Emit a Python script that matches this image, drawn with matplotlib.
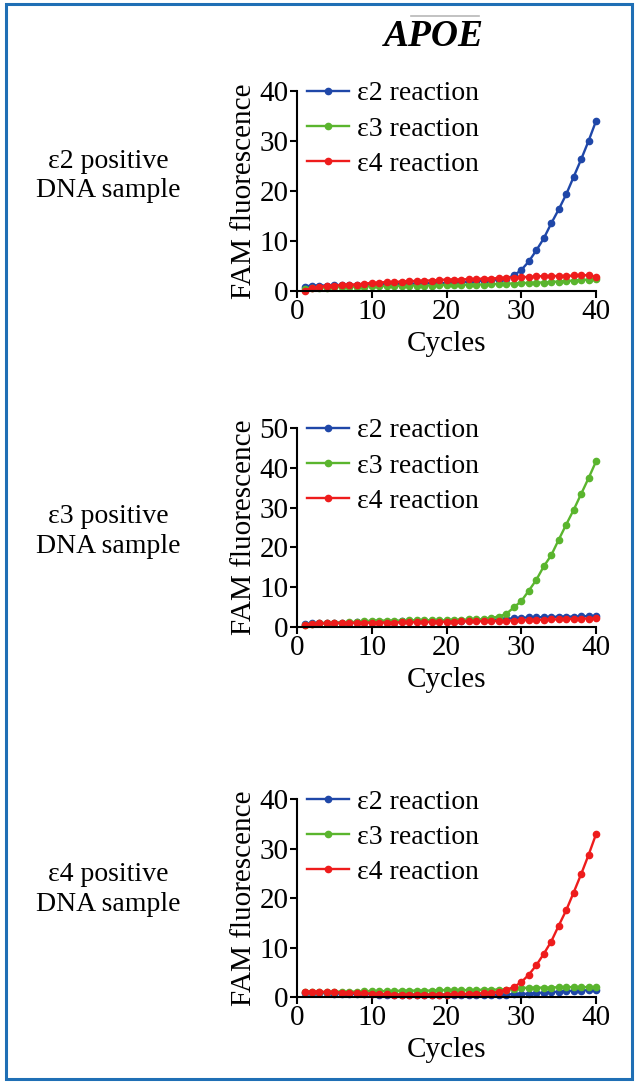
import matplotlib
matplotlib.use('Agg')
import matplotlib.pyplot as plt
from matplotlib.patches import Rectangle
import numpy as np

plt.rcParams['font.family'] = ['Liberation Serif', 'DejaVu Serif']

cycles = list(range(1, 41))

# e2 positive DNA sample
p1_e2 = [0.9, 1.1, 1.1, 1.1, 1.2, 1.2, 1.2, 1.2, 1.3, 1.3,
         1.3, 1.4, 1.4, 1.4, 1.5, 1.5, 1.5, 1.6, 1.6, 1.6,
         1.7, 1.8, 1.9, 2.0, 2.1, 2.2, 2.3, 2.5, 3.1, 4.2,
         5.9, 8.1, 10.5, 13.5, 16.3, 19.3, 22.8, 26.3, 30.0, 34.0]
p1_e3 = [0.5, 0.6, 0.7, 0.7, 0.8, 0.8, 0.8, 0.9, 0.9, 1.0,
         1.0, 1.0, 1.0, 1.1, 1.1, 1.1, 1.1, 1.1, 1.2, 1.2,
         1.2, 1.2, 1.3, 1.3, 1.3, 1.4, 1.4, 1.5, 1.5, 1.6,
         1.6, 1.7, 1.7, 1.8, 1.9, 2.0, 2.1, 2.2, 2.3, 2.5]
p1_e4 = [0.1, 0.6, 0.9, 1.0, 1.1, 1.2, 1.3, 1.3, 1.5, 1.6,
         1.7, 1.8, 1.8, 1.9, 2.0, 2.0, 2.1, 2.1, 2.2, 2.3,
         2.3, 2.3, 2.4, 2.4, 2.5, 2.5, 2.6, 2.7, 2.7, 2.8,
         2.8, 2.9, 3.0, 3.0, 3.0, 3.0, 3.1, 3.1, 3.2, 2.8]

# e3 positive DNA sample
p2_e2 = [0.8, 0.9, 1.0, 1.0, 1.1, 1.1, 1.1, 1.2, 1.2, 1.3,
         1.3, 1.3, 1.3, 1.4, 1.4, 1.4, 1.4, 1.5, 1.5, 1.5,
         1.6, 1.6, 1.7, 1.7, 1.8, 1.8, 1.9, 2.0, 2.2, 2.3,
         2.4, 2.4, 2.5, 2.5, 2.6, 2.6, 2.6, 2.7, 2.7, 2.8]
p2_e3 = [0.6, 0.8, 1.0, 1.0, 1.1, 1.1, 1.2, 1.3, 1.4, 1.6,
         1.6, 1.6, 1.6, 1.6, 1.7, 1.7, 1.7, 1.7, 1.7, 1.7,
         1.8, 1.8, 1.9, 1.9, 2.0, 2.3, 2.6, 3.3, 4.9, 6.5,
         9.1, 11.8, 15.2, 18.0, 21.9, 25.7, 29.4, 33.4, 37.4, 41.6]
p2_e4 = [0.6, 0.8, 0.9, 0.9, 1.0, 1.0, 1.0, 1.1, 1.1, 1.1,
         1.1, 1.1, 1.1, 1.2, 1.2, 1.2, 1.2, 1.3, 1.3, 1.3,
         1.3, 1.4, 1.4, 1.4, 1.5, 1.5, 1.5, 1.6, 1.6, 1.7,
         1.7, 1.8, 1.8, 1.9, 1.9, 2.0, 2.0, 2.1, 2.1, 2.2]

# e4 positive DNA sample
p3_e2 = [0.9, 0.9, 0.8, 0.8, 0.7, 0.7, 0.7, 0.6, 0.6, 0.6,
         0.5, 0.5, 0.5, 0.5, 0.5, 0.5, 0.5, 0.5, 0.5, 0.5,
         0.5, 0.5, 0.5, 0.5, 0.5, 0.5, 0.5, 0.5, 0.6, 0.6,
         0.7, 0.8, 0.9, 1.0, 1.1, 1.2, 1.3, 1.3, 1.4, 1.4]
p3_e3 = [1.0, 1.0, 1.0, 1.0, 1.1, 1.1, 1.1, 1.1, 1.2, 1.2,
         1.2, 1.2, 1.2, 1.3, 1.3, 1.3, 1.3, 1.3, 1.4, 1.4,
         1.4, 1.4, 1.4, 1.4, 1.5, 1.5, 1.5, 1.5, 1.6, 1.8,
         1.9, 1.9, 1.9, 1.9, 2.0, 2.0, 2.0, 2.0, 2.0, 2.0]
p3_e4 = [1.1, 1.1, 1.1, 1.0, 1.0, 0.9, 0.9, 0.8, 0.8, 0.7,
         0.6, 0.6, 0.5, 0.5, 0.5, 0.5, 0.5, 0.5, 0.5, 0.5,
         0.6, 0.6, 0.7, 0.7, 0.8, 0.9, 1.0, 1.5, 2.0, 3.0,
         4.5, 6.4, 8.7, 11.2, 14.4, 17.5, 21.1, 24.8, 28.7, 32.9]

sample_labels = ['\u03b52 positive\nDNA sample',
                 '\u03b53 positive\nDNA sample',
                 '\u03b54 positive\nDNA sample']
series_labels = ['\u03b52 reaction', '\u03b53 reaction', '\u03b54 reaction']
colors = ['#1f47a8', '#5ab52e', '#ee1c1c']
ymax = [40, 50, 40]
panels = [(p1_e2, p1_e3, p1_e4), (p2_e2, p2_e3, p2_e4), (p3_e2, p3_e3, p3_e4)]

# axes boxes in figure fraction [left, bottom, width, height]
boxes = [[0.4663, 0.7313, 0.4694, 0.1847],
         [0.4663, 0.4211, 0.4694, 0.1837],
         [0.4663, 0.0794, 0.4694, 0.1828]]
label_y = [0.8375, 0.509, 0.179]

fig = plt.figure(figsize=(6.37, 10.83), dpi=100)
fig.patches.append(Rectangle((0.009, 0.004), 0.983, 0.992, transform=fig.transFigure,
                             fill=False, edgecolor='#1f6fb5', linewidth=2.2))

fs = 20
for i, series in enumerate(panels):
    ax = fig.add_axes(boxes[i])
    for ys, c, lab in zip(series, colors, series_labels):
        ax.plot(cycles, ys, color=c, marker='o', markersize=4.5, linewidth=1.7,
                label=lab, clip_on=False)
    ax.set_xlim(0, 40)
    ax.set_ylim(0, ymax[i])
    ax.set_xticks([0, 10, 20, 30, 40])
    ax.set_yticks(np.arange(0, ymax[i] + 1, 10))
    for s in ['top', 'right']:
        ax.spines[s].set_visible(False)
    for s in ['left', 'bottom']:
        ax.spines[s].set_linewidth(1.5)
    ax.tick_params(direction='out', length=5, width=1.5, labelsize=21, pad=1)
    ax.set_xlabel('Cycles', fontsize=21, labelpad=4)
    ax.set_ylabel('FAM fluorescence', fontsize=21, labelpad=2)
    ax.legend(loc='upper left', bbox_to_anchor=(0.033, 1.05), frameon=False,
              fontsize=fs, handlelength=1.5, handletextpad=0.3,
              labelspacing=0.35, borderpad=0, borderaxespad=0)
    fig.text(0.17, label_y[i], sample_labels[i], fontsize=fs, ha='center',
             va='center', linespacing=1.25)

fig.text(0.681, 0.966, 'APOE', fontsize=27, fontweight='bold', fontstyle='italic',
         ha='center', va='center')
fig.add_artist(plt.Line2D([0.645, 0.752], [0.985, 0.985], transform=fig.transFigure,
                          color='#b8b8b8', linewidth=1.2))

fig.savefig('out.png', dpi=100)
